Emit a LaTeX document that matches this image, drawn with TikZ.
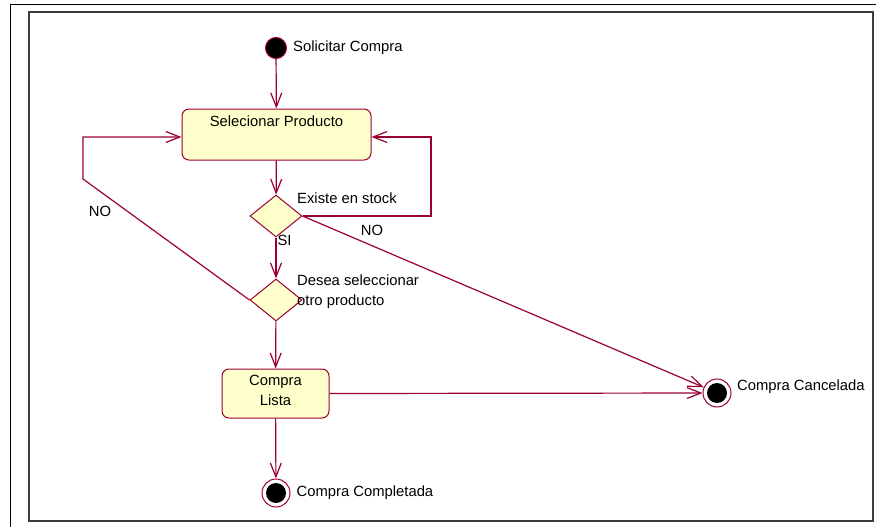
\documentclass[tikz,border=0pt]{standalone}
\usepackage{fontspec}
\setmainfont{Liberation Sans}
\usepackage{tikz}
\usetikzlibrary{arrows.meta,positioning,calc,shapes.geometric}
\definecolor{umlred}{RGB}{153,0,51}
\definecolor{umlfill}{RGB}{255,255,204}
\definecolor{framegray}{RGB}{60,60,60}
\tikzset{>={Straight Barb[length=14pt,width=11pt]}}
\tikzset{
  activity/.style={draw=umlred,fill=umlfill,rounded corners=7pt,line width=1pt,align=center},
  decision/.style={diamond,draw=umlred,fill=umlfill,line width=1pt,minimum width=52pt,minimum height=42pt,inner sep=0pt},
  initial/.style={circle,draw=umlred,fill=black,line width=1pt,minimum size=21pt,inner sep=0pt},
  final/.style={circle,draw=umlred,fill=white,line width=1pt,minimum size=28pt,inner sep=0pt,
    path picture={\fill[black] (path picture bounding box.center) circle (10pt);}},
  flow/.style={->,umlred,line width=1.2pt},
  txt/.style={inner sep=1pt,text=black}
}

\begin{document}
\begin{tikzpicture}[x=1pt,y=-1pt,font=\fontsize{14.8}{20}\selectfont]
  \useasboundingbox (0,0) rectangle (876,527);
  % frames
  \draw[black,line width=1pt] (10,4.5) -- (876,4.5);
  \draw[black,line width=1pt] (10,4.5) -- (10,527);
  \draw[framegray,line width=1.5pt] (29,12) rectangle (873,521);

  % nodes
  \node[initial] (start) at (276,48) {};
  \node[txt,right=5pt of start] (startlbl) {Solicitar Compra};
  \node[activity,minimum width=189pt,minimum height=51pt,
    label={[anchor=north,yshift=-6pt,txt]north:Selecionar Producto}] (sel) at (276.5,134.5) {};
  \node[decision] (stock) at (276,216) {};
  \node[txt,anchor=west] (stocklbl) at (296,198) {Existe en stock};
  \node[decision] (otro) at (276,300) {};
  \node[txt,anchor=west,align=left] (otrolbl) at (296,292) {Desea seleccionar\\otro producto};
  \node[activity,minimum width=107pt,minimum height=49pt] (lista) at (275.5,393.5) {Compra\\Lista\\[-13pt]};
  \node[final] (fin) at (276,493) {};
  \node[txt,right=5pt of fin] (finlbl) {Compra Completada};
  \node[final] (cancel) at (717,393) {};
  \node[txt,anchor=west] (cancellbl) at (736,387) {Compra Cancelada};

  \coordinate (rback) at (431,216);
  \coordinate (lback) at (83,179);

  % transitions
  \draw[flow] (start) -- (sel);
  \draw[flow] (sel) -- (stock);
  \draw[flow] (stock.east) -- (rback) |- ($(sel.east)+(0,2.5)$);
  \draw[flow] (stock.east) -- (cancel);
  \node[txt] (no1) at (372,230) {NO};
  \draw[flow] (stock) -- (otro) node[pos=0.05,right,txt,text=black,yshift=-1pt] (si) {SI};
  \draw[flow] (otro.west) -- (lback) |- ($(sel.west)+(0,2.5)$);
  \node[txt] (no2) at (100,211) {NO};
  \draw[flow] (otro) -- (lista);
  \draw[flow] (lista) -- (fin);
  \draw[flow] (lista.east) -- (cancel);
\end{tikzpicture}
\end{document}
